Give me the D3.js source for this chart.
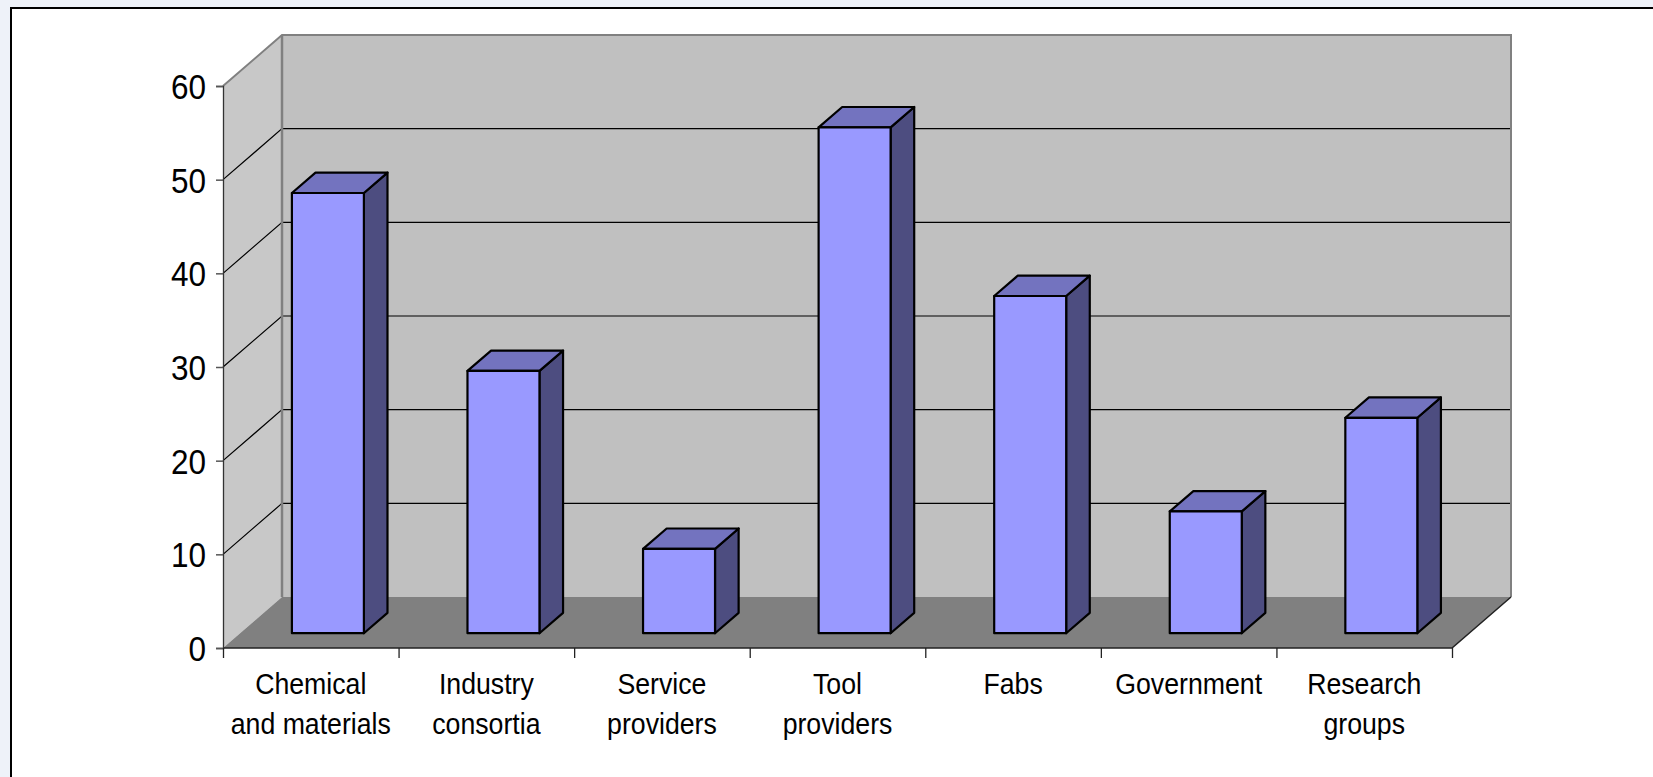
<!DOCTYPE html>
<html>
<head>
<meta charset="utf-8">
<script src="https://cdn.jsdelivr.net/npm/d3@7"></script>
<style>
  html, body { margin: 0; padding: 0; background: #eef2f9; }
  svg { display: block; }
  text { font-family: "Liberation Sans", Arial, sans-serif; fill: #000; }
</style>
</head>
<body>
<svg id="chart" width="1653" height="777"></svg>
<script>
// ---- data ----
const categories = ["Chemical\nand materials", "Industry\nconsortia", "Service\nproviders", "Tool\nproviders", "Fabs", "Government", "Research\ngroups"];
const values = [47, 28, 9, 54, 36, 13, 23];
const yTicks = [0, 10, 20, 30, 40, 50, 60];

// ---- layout ----
const W = 1653, H = 777;
const x0 = 223, x1 = 1452;      // front axis extent
const yTop = 86, yBot = 648;    // front plane 60 / 0
const DX = 59, DY = -51;        // depth vector
const f0 = 0.29, f1 = 0.69;     // bar depth span

const svg = d3.select("#chart");

svg.append("rect").attr("x", 0).attr("y", 0).attr("width", W).attr("height", H).attr("fill", "#eef2f9");
svg.append("rect").attr("x", 11).attr("y", 8).attr("width", W + 20).attr("height", H + 20)
  .attr("fill", "#ffffff").attr("stroke", "#000").attr("stroke-width", 2);

const y = d3.scaleLinear().domain([0, 60]).range([yBot, yTop]);
const x = d3.scaleBand().domain(categories).range([x0, x1]).paddingInner(0.59).paddingOuter(0.295);
const xSlots = d3.scaleLinear().domain([0, categories.length]).range([x0, x1]);

const P = (px, py, f) => [px + DX * f, py + DY * f];
const line = d3.line();

// back wall
const bw = [P(x0, y(60), 1), P(x1, y(60), 1), P(x1, y(0), 1), P(x0, y(0), 1)];
svg.append("path").attr("d", line(bw) + "Z").attr("fill", "#c0c0c0");
// left wall
const lw = [P(x0, y(60), 0), P(x0, y(60), 1), P(x0, y(0), 1), P(x0, y(0), 0)];
svg.append("path").attr("d", line(lw) + "Z").attr("fill", "#c8c8c8");

// gridlines
const gl = yTicks.filter(t => t > 0 && t < 60);
svg.append("g").selectAll("path").data(gl).join("path")
  .attr("d", t => line([P(x0, y(t), 0), P(x0, y(t), 1), P(x1, y(t), 1)]))
  .attr("fill", "none").attr("stroke", "#000").attr("stroke-width", 1.2);

// wall outlines
svg.append("path").attr("d", line([P(x0, y(60), 0), P(x0, y(60), 1), P(x1, y(60), 1), P(x1, y(0), 1)]))
  .attr("fill", "none").attr("stroke", "#808080").attr("stroke-width", 2);
svg.append("path").attr("d", line([P(x0, y(60), 1), P(x0, y(0), 1)]))
  .attr("fill", "none").attr("stroke", "#808080").attr("stroke-width", 2.5);

// floor
const fl = [P(x0, y(0), 0), P(x1, y(0), 0), P(x1, y(0), 1), P(x0, y(0), 1)];
svg.append("path").attr("d", line(fl) + "Z").attr("fill", "#808080");
svg.append("path").attr("d", line([P(x0, y(0), 0), P(x1, y(0), 0), P(x1, y(0), 1)]))
  .attr("fill", "none").attr("stroke", "#222").attr("stroke-width", 1.5);

// bars
const bars = svg.append("g").selectAll("g").data(categories.map((c, i) => ({c, v: values[i]}))).join("g");
bars.each(function(d) {
  const g = d3.select(this);
  const bx0 = x(d.c), bx1 = x(d.c) + x.bandwidth();
  const yt = y(d.v), yb = y(0);
  const front = [P(bx0, yt, f0), P(bx1, yt, f0), P(bx1, yb, f0), P(bx0, yb, f0)];
  const top = [P(bx0, yt, f0), P(bx0, yt, f1), P(bx1, yt, f1), P(bx1, yt, f0)];
  const side = [P(bx1, yt, f0), P(bx1, yt, f1), P(bx1, yb, f1), P(bx1, yb, f0)];
  const st = {stroke: "#000", "stroke-width": 2.2, "stroke-linejoin": "round"};
  g.append("path").attr("d", line(side) + "Z").attr("fill", "#4d4d80").attr("stroke", st.stroke).attr("stroke-width", st["stroke-width"]).attr("stroke-linejoin", "round");
  g.append("path").attr("d", line(top) + "Z").attr("fill", "#7373bf").attr("stroke", st.stroke).attr("stroke-width", st["stroke-width"]).attr("stroke-linejoin", "round");
  g.append("path").attr("d", line(front) + "Z").attr("fill", "#9999ff").attr("stroke", st.stroke).attr("stroke-width", st["stroke-width"]).attr("stroke-linejoin", "round");
});

// y axis
const yAxis = d3.axisLeft(y).tickValues(yTicks).tickSize(7).tickFormat("");
const ya = svg.append("g").attr("transform", `translate(${x0},0)`).call(yAxis);
ya.select(".domain").attr("stroke", "#333").attr("stroke-width", 1.3);
ya.selectAll(".tick line").attr("stroke", "#555").attr("stroke-width", 1.5);
svg.append("g").selectAll("text").data(yTicks).join("text")
  .attr("transform", t => `translate(206,${y(t) + 13}) scale(0.875,1)`)
  .attr("text-anchor", "end").attr("font-size", 36).text(t => t);

// x axis ticks
const xAxis = d3.axisBottom(xSlots).tickValues(d3.range(categories.length + 1)).tickSize(10).tickFormat("");
const xa = svg.append("g").attr("transform", `translate(0,${yBot})`).call(xAxis);
xa.select(".domain").remove();
xa.selectAll(".tick line").attr("stroke", "#222").attr("stroke-width", 1.3);

// x labels
const xl = svg.append("g").selectAll("text").data(categories).join("text")
  .attr("transform", c => `translate(${x(c) + x.bandwidth() / 2},694) scale(0.89,1)`)
  .attr("text-anchor", "middle").attr("font-size", 30);
xl.each(function(c) {
  const parts = c.split("\n");
  d3.select(this).selectAll("tspan").data(parts).join("tspan")
    .attr("x", 0).attr("dy", (p, i) => i === 0 ? 0 : 40).text(p => p);
});
</script>
</body>
</html>
